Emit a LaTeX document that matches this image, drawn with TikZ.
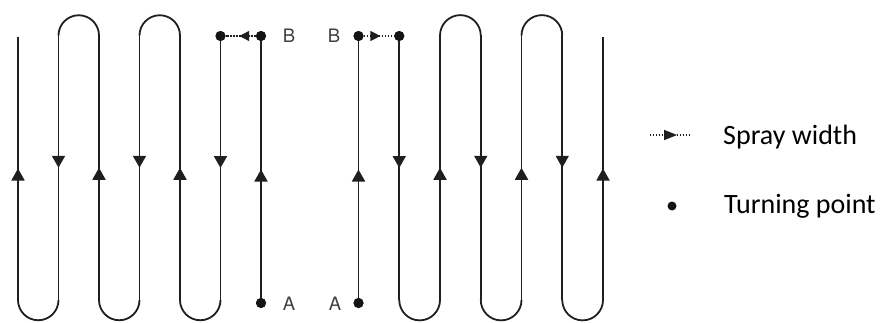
\documentclass[tikz,border=0pt]{standalone}
\usepackage{fontspec}
\setmainfont{TeX Gyre Heros}
\newfontfamily\legendfont{Carlito}
\usetikzlibrary{arrows.meta,decorations.markings}
\begin{document}
\begin{tikzpicture}[x=1pt,y=1pt,
  trk/.style={line width=1.8pt, draw=black!88},
  run/.style={trk, postaction={decorate}, decoration={markings, mark=at position 0.5 with {\arrow{Triangle[width=13pt,length=12pt]}}}},
  spray/.style={line width=1.4pt, draw=black!88, dash pattern=on 1.4pt off 1.6pt,
     postaction={decorate}, decoration={markings, mark=at position 0.55 with {\arrow[black!88]{Triangle[width=10pt,length=10pt]}}}},
  tp/.style={circle, fill=black!92, inner sep=0pt, minimum size=10pt},
  lbl/.style={text=black!75, font=\fontsize{18.5}{18.5}\selectfont, inner sep=0pt},
  leg/.style={font=\legendfont\fontsize{28}{28}\selectfont, anchor=west, inner sep=0pt, text=black}
]
\useasboundingbox (0,0) rectangle (880,322);
% ---------- left field ----------
\coordinate (l1t) at (18,285);     \coordinate (l1b) at (18,22);
\coordinate (l2t) at (58.5,286.5); \coordinate (l2b) at (58.5,22);
\coordinate (l3t) at (99,286.5);   \coordinate (l3b) at (99,22);
\coordinate (l4t) at (139.5,286.5);\coordinate (l4b) at (139.5,22);
\coordinate (l5t) at (180,286.5);  \coordinate (l5b) at (180,22);
\coordinate (l6t) at (220.5,286);  \coordinate (l6b) at (220.5,22);
\node[tp] (TL) at (220.5,286) {};
\node[tp] (BL) at (261,286) {};
\node[tp] (AL) at (261,19) {};
\draw[run] (AL.center) -- (BL.center);
\draw[run] (l6t) -- (l6b);
\draw[trk] (l6b) arc[start angle=0, end angle=-180, radius=20.25];
\draw[run] (l5b) -- (l5t);
\draw[trk] (l5t) arc[start angle=0, end angle=180, radius=20.25];
\draw[run] (l4t) -- (l4b);
\draw[trk] (l4b) arc[start angle=0, end angle=-180, radius=20.25];
\draw[run] (l3b) -- (l3t);
\draw[trk] (l3t) arc[start angle=0, end angle=180, radius=20.25];
\draw[run] (l2t) -- (l2b);
\draw[trk] (l2b) arc[start angle=0, end angle=-180, radius=20.25];
\draw[run] (l1b) -- (l1t);
\node[tp] at (TL) {};
\node[tp] at (BL) {};
\node[tp] at (AL) {};
\draw[spray] (BL) -- (TL);
\node[lbl] (labBL) at (289,286) {B};
\node[lbl] (labAL) at (289,18.5) {A};
% ---------- right field ----------
\coordinate (r2t) at (399.25,286);  \coordinate (r2b) at (399.25,22);
\coordinate (r3t) at (440,286.5);   \coordinate (r3b) at (440,22);
\coordinate (r4t) at (480.75,286.5);\coordinate (r4b) at (480.75,22);
\coordinate (r5t) at (521.5,286.5); \coordinate (r5b) at (521.5,22);
\coordinate (r6t) at (562.25,286.5);\coordinate (r6b) at (562.25,22);
\coordinate (r7t) at (603,285);     \coordinate (r7b) at (603,22);
\node[tp] (BR) at (358.5,286) {};
\node[tp] (TR) at (399.25,286) {};
\node[tp] (AR) at (358.5,19) {};
\draw[run] (AR.center) -- (BR.center);
\draw[run] (r2t) -- (r2b);
\draw[trk] (r2b) arc[start angle=180, end angle=360, radius=20.375];
\draw[run] (r3b) -- (r3t);
\draw[trk] (r3t) arc[start angle=180, end angle=0, radius=20.375];
\draw[run] (r4t) -- (r4b);
\draw[trk] (r4b) arc[start angle=180, end angle=360, radius=20.375];
\draw[run] (r5b) -- (r5t);
\draw[trk] (r5t) arc[start angle=180, end angle=0, radius=20.375];
\draw[run] (r6t) -- (r6b);
\draw[trk] (r6b) arc[start angle=180, end angle=360, radius=20.375];
\draw[run] (r7b) -- (r7t);
\node[tp] at (BR) {};
\node[tp] at (TR) {};
\node[tp] at (AR) {};
\draw[spray] (BR) -- (TR);
\node[lbl] (labBR) at (334,286) {B};
\node[lbl] (labAR) at (335,18.5) {A};
% ---------- legend ----------
\coordinate (sw1) at (650,187);
\coordinate (sw2) at (691,187);
\draw[line width=1.4pt, draw=black!88, dash pattern=on 1.4pt off 1.6pt, postaction={decorate}, decoration={markings, mark=at position 0.66 with {\arrow[black!88]{Triangle[width=10pt,length=13pt]}}}] (sw1) -- (sw2);
\node[leg] (swtext) at (723,185) {Spray width};
\node[tp, minimum size=9pt] (legdot) at (672,116) {};
\node[leg] (tptext) at (724,116) {Turning point};
\end{tikzpicture}
\end{document}
